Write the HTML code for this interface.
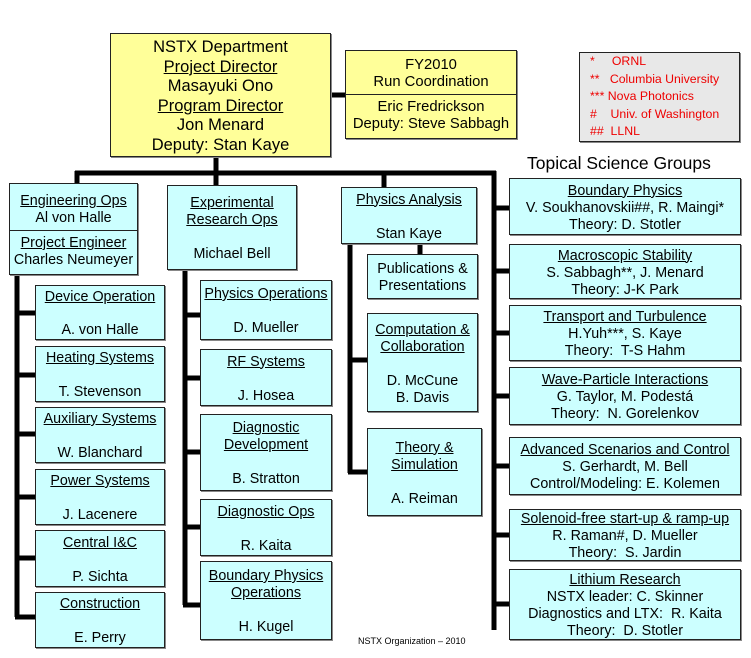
<!DOCTYPE html>
<html><head><meta charset="utf-8"><style>
body{margin:0;width:751px;height:658px;background:#fff;position:relative;overflow:hidden;font-family:"Liberation Sans",Arial,sans-serif;color:#000}
.b{position:absolute;box-sizing:border-box;border:1px solid #222;background:#ccffff;box-shadow:1px 1px 0 #888;display:flex;flex-direction:column;justify-content:center;align-items:center;text-align:center;font-size:14.3px;line-height:17px;white-space:nowrap;padding-top:3px}
.y{background:#ffff99}
u{text-decoration:underline}
.sp{height:17px}
.hr{align-self:stretch;border-top:1px solid #222;margin:4px 0}
svg{position:absolute;left:0;top:0}
</style></head><body>
<svg width="751" height="658">
<g stroke="#000" stroke-width="5" fill="none">
<path d="M216 157V173M75 173H496M77 171V184M216 171V186M384 171V188M494 171V630"/>
<path d="M331 95H346"/>
<path d="M17 275V617M15 313H36M15 375H36M15 434H36M15 497H36M15 558H36M15 617H36"/>
<path d="M185 270V605M183 315H201M183 378H201M183 452H201M183 527H201M183 605H201"/>
<path d="M350 244V473M420 244V255M348 360H368M348 472H368"/>
<path d="M492 208H510M492 271H510M492 333H510M492 396H510M492 466H510M492 535H510M492 604H510"/>
</g></svg>

<div class="b y" style="left:110px;top:33px;width:221px;height:124px;font-size:16.5px;line-height:19.5px">
<div>NSTX Department</div><div><u>Project Director</u></div><div>Masayuki Ono</div><div><u>Program Director</u></div><div>Jon Menard</div><div>Deputy: Stan Kaye</div></div>

<div class="b y" style="left:345px;top:50px;width:172px;height:89px;justify-content:flex-start;padding-top:6px;font-size:14.8px">
<div>FY2010</div><div>Run Coordination</div><div class="hr" style="margin:3px -1px 4px"></div><div>Eric Fredrickson</div><div>Deputy: Steve Sabbagh</div></div>

<div class="b" style="left:579px;top:52px;width:161px;height:90px;background:#e8e8e8;align-items:flex-start;color:#e00;font-size:12.3px;line-height:17.4px;padding-left:10px;padding-top:0">
<div>*&nbsp;&nbsp;&nbsp;&nbsp;&nbsp;ORNL</div><div>**&nbsp;&nbsp;&nbsp;Columbia University</div><div>*** Nova Photonics</div><div>#&nbsp;&nbsp;&nbsp;&nbsp;Univ. of Washington</div><div>##&nbsp;&nbsp;LLNL</div></div>

<div style="position:absolute;left:527px;top:153px;font-size:17.5px">Topical Science Groups</div>

<div class="b" style="left:9px;top:183px;width:129px;height:92px;justify-content:flex-start;padding-top:9px">
<div><u>Engineering Ops</u></div><div>Al von Halle</div><div class="hr" style="margin:3px -1px 4px"></div><div><u>Project Engineer</u></div><div>Charles Neumeyer</div></div>

<div class="b" style="left:35px;top:285px;width:130px;height:55px"><div><u>Device Operation</u></div><div class="sp"></div><div>A. von Halle</div></div>
<div class="b" style="left:35px;top:346px;width:130px;height:56px"><div><u>Heating Systems</u></div><div class="sp"></div><div>T. Stevenson</div></div>
<div class="b" style="left:35px;top:407px;width:130px;height:56px"><div><u>Auxiliary Systems</u></div><div class="sp"></div><div>W. Blanchard</div></div>
<div class="b" style="left:35px;top:469px;width:130px;height:56px"><div><u>Power Systems</u></div><div class="sp"></div><div>J. Lacenere</div></div>
<div class="b" style="left:35px;top:530px;width:130px;height:57px"><div><u>Central I&amp;C</u></div><div class="sp"></div><div>P. Sichta</div></div>
<div class="b" style="left:35px;top:592px;width:130px;height:56px"><div><u>Construction</u></div><div class="sp"></div><div>E. Perry</div></div>

<div class="b" style="left:167px;top:185px;width:130px;height:85px"><div><u>Experimental</u></div><div><u>Research Ops</u></div><div class="sp"></div><div>Michael Bell</div></div>
<div class="b" style="left:200px;top:280px;width:132px;height:60px"><div><u>Physics Operations</u></div><div class="sp"></div><div>D. Mueller</div></div>
<div class="b" style="left:200px;top:349px;width:132px;height:57px"><div><u>RF Systems</u></div><div class="sp"></div><div>J. Hosea</div></div>
<div class="b" style="left:200px;top:414px;width:132px;height:77px"><div><u>Diagnostic</u></div><div><u>Development</u></div><div class="sp"></div><div>B. Stratton</div></div>
<div class="b" style="left:200px;top:499px;width:132px;height:57px"><div><u>Diagnostic Ops</u></div><div class="sp"></div><div>R. Kaita</div></div>
<div class="b" style="left:200px;top:561px;width:132px;height:79px"><div><u>Boundary Physics</u></div><div><u>Operations</u></div><div class="sp"></div><div>H. Kugel</div></div>

<div class="b" style="left:341px;top:187px;width:136px;height:57px"><div><u>Physics Analysis</u></div><div class="sp"></div><div>Stan Kaye</div></div>
<div class="b" style="left:367px;top:254px;width:111px;height:45px"><div>Publications &amp;</div><div>Presentations</div></div>
<div class="b" style="left:367px;top:313px;width:111px;height:99px"><div><u>Computation &amp;</u></div><div><u>Collaboration</u></div><div class="sp"></div><div>D. McCune</div><div>B. Davis</div></div>
<div class="b" style="left:367px;top:428px;width:115px;height:88px"><div><u>Theory &amp;</u></div><div><u>Simulation</u></div><div class="sp"></div><div>A. Reiman</div></div>

<div class="b" style="left:509px;top:178px;width:232px;height:57px"><div><u>Boundary Physics</u></div><div>V. Soukhanovskii##, R. Maingi*</div><div>Theory: D. Stotler</div></div>
<div class="b" style="left:509px;top:244px;width:232px;height:55px"><div><u>Macroscopic Stability</u></div><div>S. Sabbagh**, J. Menard</div><div>Theory: J-K Park</div></div>
<div class="b" style="left:509px;top:305px;width:232px;height:56px"><div><u>Transport and Turbulence</u></div><div>H.Yuh***, S. Kaye</div><div>Theory:&nbsp; T-S Hahm</div></div>
<div class="b" style="left:509px;top:367px;width:232px;height:58px"><div><u>Wave-Particle Interactions</u></div><div>G. Taylor, M. Podestá</div><div>Theory:&nbsp; N. Gorelenkov</div></div>
<div class="b" style="left:509px;top:437px;width:232px;height:58px"><div><u>Advanced Scenarios and Control</u></div><div>S. Gerhardt, M. Bell</div><div>Control/Modeling: E. Kolemen</div></div>
<div class="b" style="left:509px;top:509px;width:232px;height:52px"><div><u>Solenoid-free start-up &amp; ramp-up</u></div><div>R. Raman#, D. Mueller</div><div>Theory:&nbsp; S. Jardin</div></div>
<div class="b" style="left:509px;top:569px;width:232px;height:71px"><div><u>Lithium Research</u></div><div>NSTX leader: C. Skinner</div><div>Diagnostics and LTX:&nbsp; R. Kaita</div><div>Theory:&nbsp; D. Stotler</div></div>

<div style="position:absolute;left:358px;top:636px;font-size:9px">NSTX Organization – 2010</div>
</body></html>
